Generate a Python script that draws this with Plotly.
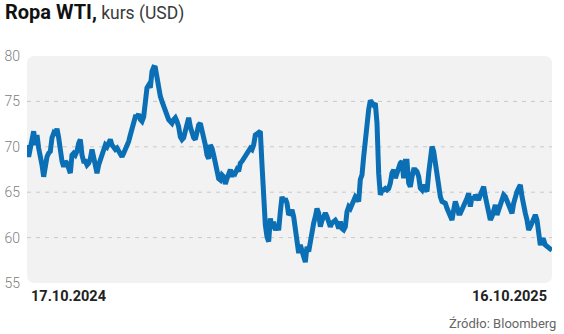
import pandas as pd
import plotly.graph_objects as go

TITLE_BOLD = "Ropa WTI,"
TITLE_REST = " kurs (USD)"
SOURCE = "Źródło: Bloomberg"
START_LABEL = "17.10.2024"
END_LABEL = "16.10.2025"
START_DATE = "2024-10-17"
END_DATE = "2025-10-16"

Y_TICKS = [55, 60, 65, 70, 75, 80]
GRID_LEVELS = [60, 65, 70, 75]

# WTI price (USD), evenly spaced over the period
seg1 = [70.2, 68.9, 69.85, 70.6, 71.7, 70.2, 71.3, 69.85, 69.1, 68.0,
        66.7, 68.2, 68.9, 69.3, 69.5, 71.0, 71.5, 71.3, 72.0, 71.0,
        69.5, 68.4, 67.8, 68.4, 68.2, 67.5, 67.1, 69.1, 69.3, 69.1,
        69.5, 70.4, 70.8, 69.1, 68.4, 68.4, 68.0, 68.2, 68.7, 69.7,
        68.7, 67.6, 67.1, 68.0, 68.6, 69.1, 69.85, 70.2, 70.0, 70.6,
        70.8, 70.2, 70.0, 69.7, 69.85, 69.5, 69.1, 68.9, 69.3, 69.7,
        70.2, 70.6, 71.3, 72.1, 73.0, 73.3, 73.3, 73.6, 73.0, 72.8,
        73.3, 75.0, 76.5, 76.8, 76.5, 78.3, 78.75]
seg2 = [78.7, 77.6, 76.1, 75.55, 75.0, 74.6, 74.1, 73.5, 73.0, 72.8,
        72.6, 73.0, 73.2, 72.8, 72.2, 71.1, 70.8, 71.0, 71.9, 72.8,
        73.2, 72.2, 71.3, 71.0, 70.8, 71.7, 72.4, 72.6, 71.9, 70.8,
        70.2, 69.1, 68.7, 70.2, 69.85, 69.1, 68.4, 67.6, 66.5, 66.35,
        66.9, 66.7, 65.9, 66.5, 67.3, 67.5, 66.7, 67.3, 67.1, 67.5,
        67.3, 68.2, 68.4, 68.7, 69.1, 69.3, 69.5, 69.85, 69.7, 70.2,
        71.3, 71.5, 71.5, 71.7, 68.0, 63.6, 61.4, 60.1, 59.55, 62.1,
        61.0, 61.75, 60.8, 61.4, 60.8, 62.85, 64.5, 64.0]
seg3 = [64.3, 63.8, 62.5, 62.7, 63.05, 62.3, 61.2, 59.4, 58.3, 59.2,
        58.3, 57.9, 57.3, 59.0, 58.45, 59.7, 60.85, 61.6, 62.3, 63.2,
        62.7, 61.2, 61.9, 62.5, 62.7, 62.3, 61.6, 61.2, 61.6, 61.75,
        61.9, 61.6, 61.0, 61.75, 61.0, 60.85, 61.2, 62.85, 63.4, 63.2,
        63.6, 63.97, 64.5, 64.3, 63.97, 66.4, 66.9, 68.9, 71.14, 71.9,
        74.1, 75.1, 74.9, 74.6, 74.8, 72.6, 67.1, 64.7, 65.25, 65.25,
        65.4, 65.25, 65.4, 66.0, 67.1, 67.46, 66.55, 67.1, 67.8, 68.2,
        68.4, 66.55, 68.4, 68.4, 66.0, 65.6, 66.7, 67.46]
seg4 = [67.46, 67.28, 66.73, 65.44, 65.25, 65.8, 65.44, 65.07, 67.09, 68.93,
        70.04, 69.5, 68.2, 66.54, 65.25, 64.52, 63.97, 63.78, 63.78, 63.23,
        62.86, 62.31, 61.94, 63.05, 63.97, 63.41, 62.68, 62.68, 63.05, 63.6,
        63.78, 64.33, 64.89, 63.41, 64.52, 64.15, 64.7, 64.33, 64.15, 64.7,
        65.07, 65.62, 64.52, 63.78, 62.5, 61.94, 62.31, 62.86, 63.6, 62.5,
        63.05, 63.41, 64.15, 64.7, 64.52, 63.97, 63.41, 62.86, 62.68, 63.78,
        64.7, 65.07, 65.44, 65.8, 64.52, 63.23, 62.68, 61.94, 60.84, 61.2,
        61.76, 61.94, 62.5, 61.94, 60.47, 59.18, 59.73, 59.73, 59.18, 58.99,
        58.8, 58.8, 58.6]

prices = seg1 + seg2 + seg3 + seg4
dates = pd.date_range(START_DATE, END_DATE, periods=len(prices))

LINE_COLOR = "#0a6fb4"
BG_COLOR = "#f2f2f2"
GRID_COLOR = "#c9c9c9"
FONT = "Roboto, sans-serif"

fig = go.Figure()
fig.add_trace(go.Scatter(
    x=dates, y=prices, mode="lines",
    line=dict(color=LINE_COLOR, width=5, shape="linear"),
    hoverinfo="skip", showlegend=False,
))

# rounded grey plot background
W, H = 525.0, 227.0
PLOT_TOP, PLOT_BOTTOM = 56.0, 283.0
r = 8.0
rx, ry = r / W, r / H
path = (f"M {rx},0 L {1-rx},0 Q 1,0 1,{ry} L 1,{1-ry} Q 1,1 {1-rx},1 "
        f"L {rx},1 Q 0,1 0,{1-ry} L 0,{ry} Q 0,0 {rx},0 Z")
shapes = [dict(type="path", xref="paper", yref="paper", path=path,
               fillcolor=BG_COLOR, line=dict(width=0), layer="below")]
for g in GRID_LEVELS:
    shapes.append(dict(type="line", xref="paper", yref="y", x0=0, x1=1, y0=g, y1=g,
                       line=dict(color=GRID_COLOR, width=1, dash="4px,5px"), layer="below"))


def py(pix):
    """pixel row -> paper y"""
    return (PLOT_BOTTOM - pix) / H


annotations = [
    dict(xref="paper", yref="paper", x=-24/W, y=py(12), xanchor="left", yanchor="middle",
         text=(f"<b>{TITLE_BOLD}</b>"
               f"<span style='font-size:17.5px;color:#3a3a3a'>{TITLE_REST}</span>"),
         showarrow=False, font=dict(family=FONT, size=20, color="#111")),
    dict(xref="paper", yref="paper", x=2/W, y=py(296), xanchor="left", yanchor="middle",
         text=f"<b>{START_LABEL}</b>", showarrow=False,
         font=dict(family=FONT, size=14.5, color="#222")),
    dict(xref="paper", yref="paper", x=1 - 3/W, y=py(296), xanchor="right", yanchor="middle",
         text=f"<b>{END_LABEL}</b>", showarrow=False,
         font=dict(family=FONT, size=14.5, color="#222")),
    dict(xref="paper", yref="paper", x=1 + 6/W, y=py(323), xanchor="right", yanchor="middle",
         text=SOURCE, showarrow=False,
         font=dict(family=FONT, size=13, color="#666")),
]

fig.update_layout(
    width=564, height=334,
    margin=dict(l=27, r=12, t=56, b=51, autoexpand=False),
    paper_bgcolor="white", plot_bgcolor="rgba(0,0,0,0)",
    shapes=shapes, annotations=annotations,
    xaxis=dict(range=[dates[0], dates[-1]], showgrid=False, zeroline=False,
               showticklabels=False, ticks="", showline=False, fixedrange=True,
               automargin=False),
    yaxis=dict(range=[55, 80], tickvals=Y_TICKS, showgrid=False, zeroline=False,
               showline=False, ticks="", ticklabelstandoff=6, automargin=False,
               tickfont=dict(family=FONT, size=14, color="#808080", weight=300),
               fixedrange=True),
)

fig.write_html("out.html", config={"displayModeBar": False})
